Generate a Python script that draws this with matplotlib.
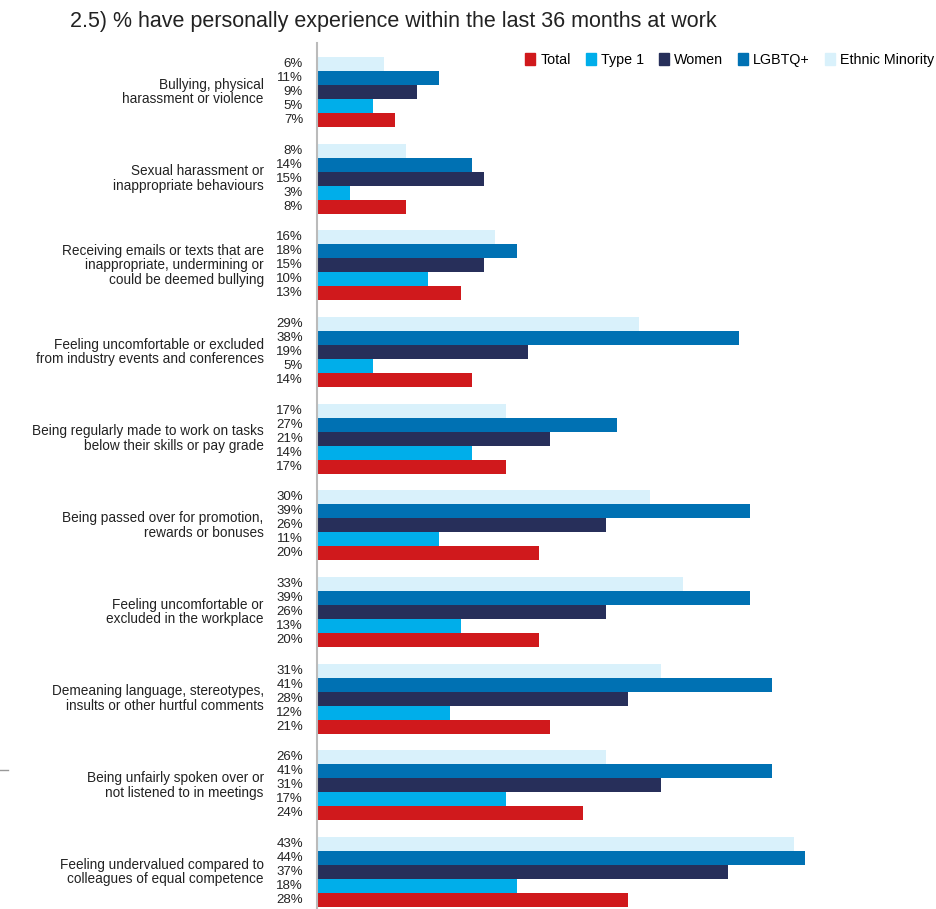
import numpy as np
import matplotlib
matplotlib.use('Agg')
import matplotlib.pyplot as plt
from matplotlib.lines import Line2D

plt.rcParams['font.family'] = ['Liberation Sans', 'DejaVu Sans']

categories = ['Bullying, physical\nharassment or violence',
              'Sexual harassment or\ninappropriate behaviours',
              'Receiving emails or texts that are\ninappropriate, undermining or\ncould be deemed bullying',
              'Feeling uncomfortable or excluded\nfrom industry events and conferences',
              'Being regularly made to work on tasks\nbelow their skills or pay grade',
              'Being passed over for promotion,\nrewards or bonuses',
              'Feeling uncomfortable or\nexcluded in the workplace',
              'Demeaning language, stereotypes,\ninsults or other hurtful comments',
              'Being unfairly spoken over or\nnot listened to in meetings',
              'Feeling undervalued compared to\ncolleagues of equal competence']

series = ['Total', 'Type 1', 'Women', 'LGBTQ+', 'Ethnic Minority']
total = [7, 8, 13, 14, 17, 20, 20, 21, 24, 28]
type1 = [5, 3, 10, 5, 14, 11, 13, 12, 17, 18]
women = [9, 15, 15, 19, 21, 26, 26, 28, 31, 37]
lgbtq = [11, 14, 18, 38, 27, 39, 39, 41, 41, 44]
ethnic = [6, 8, 16, 29, 17, 30, 33, 31, 26, 43]

colors = ['#D0191C', '#00AEEA', '#272F5A', '#0071B3', '#D9F1FB']

fig = plt.figure(figsize=(9.37, 9.09), dpi=100)
ax = fig.add_axes([317/937, 0, 620/937, 866/909])

# stacking order inside each group, top to bottom
stack = [ethnic, lgbtq, women, type1, total]
stack_cols = colors[::-1]
pitch = 6.2
for i in range(len(categories)):
    for j, (vals, c) in enumerate(zip(stack, stack_cols)):
        y = i * pitch + j
        ax.barh(y, vals[i], height=1.0, color=c, edgecolor='none')
        ax.text(-1.25, y, '%d%%' % vals[i], ha='right', va='center',
                fontsize=9.5, color='#222222')
    ax.text(-4.8, i * pitch + 2, categories[i], ha='right', va='center',
            fontsize=9.8, color='#222222', linespacing=1.05)

ax.set_xlim(0, 620/11.1)
ax.set_ylim(60.44, -1.5)
ax.set_xticks([])
ax.set_yticks([])
for s in ['top', 'right', 'bottom']:
    ax.spines[s].set_visible(False)
ax.spines['left'].set_color('#BBBBBB')
ax.spines['left'].set_linewidth(1.5)

handles = [plt.Rectangle((0, 0), 1, 1, color=c) for c in colors]
fig.legend(handles, series, ncol=5, loc='upper right', bbox_to_anchor=(1.003, 1 - 47/909),
           frameon=False, fontsize=10.3, handlelength=0.7, handleheight=0.9,
           handletextpad=0.35, columnspacing=1.05, borderaxespad=0)

fig.text(70/937, 1 - 22/909, '2.5) % have personally experience within the last 36 months at work',
         ha='left', va='center', fontsize=15.5, color='#222222')

# small grey rule at the left edge
fig.add_artist(Line2D([0, 8/937], [1 - 770/909, 1 - 770/909], color='#999999', lw=1))

fig.savefig('out.png', dpi=100)
